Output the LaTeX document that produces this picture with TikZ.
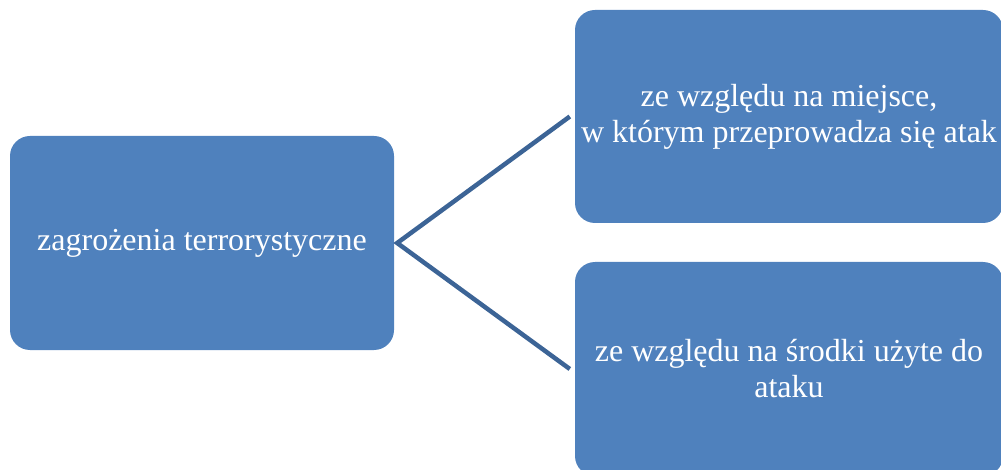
\documentclass[tikz,border=0pt]{standalone}
\usepackage{fontspec}
\setmainfont{Liberation Serif}
\definecolor{boxblue}{HTML}{4F81BD}
\definecolor{lineblue}{HTML}{3C6496}
\begin{document}
\begin{tikzpicture}[x=1pt,y=-1pt,
  catbox/.style={rectangle, rounded corners=20pt, fill=boxblue, draw=none,
    text=white, align=center, inner sep=0pt,
    font=\fontsize{32}{36}\selectfont},
  conn/.style={draw=lineblue, line width=4.5pt, line join=miter}]
  \useasboundingbox (0,0) rectangle (1001,470);
  \begin{scope}
    \clip (0,0) rectangle (1001,470);
    \node[catbox, minimum width=384pt, minimum height=214pt] (root) at (202,243)
      {zagrożenia terrorystyczne};
    \node[catbox, minimum width=428pt, minimum height=213pt] (place) at (789,116.5)
      {ze względu na miejsce,\\ w którym przeprowadza się atak};
    \node[catbox, minimum width=428pt, minimum height=214pt] (means) at (789,369)
      {ze względu na środki użyte do\\ataku};
  \end{scope}
  \coordinate (hub) at ([xshift=3pt]root.east);
  \coordinate (placeend) at ([xshift=-5pt]place.west);
  \coordinate (meansend) at ([xshift=-5pt]means.west);
  \draw[conn] (placeend) -- (hub) -- (meansend);
\end{tikzpicture}
\end{document}
